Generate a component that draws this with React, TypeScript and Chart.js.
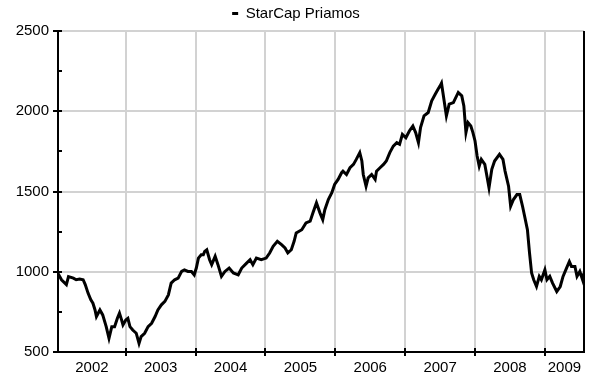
import React, { useEffect, useRef } from 'react';
import { Chart, registerables } from 'chart.js';

Chart.register(...registerables);

const seriesName = 'StarCap Priamos';

// decimal-year positions of the samples
const dates = [
  2002.03, 2002.08, 2002.15, 2002.18, 2002.25, 2002.29, 2002.34, 2002.39, 2002.42, 2002.46,
  2002.50, 2002.53, 2002.56, 2002.58, 2002.63, 2002.67, 2002.72, 2002.76, 2002.80, 2002.84,
  2002.88, 2002.91, 2002.94, 2002.96, 2003.00, 2003.03, 2003.06, 2003.10, 2003.15, 2003.19,
  2003.22, 2003.27, 2003.32, 2003.37, 2003.42, 2003.46, 2003.51, 2003.56, 2003.61, 2003.65,
  2003.70, 2003.75, 2003.80, 2003.84, 2003.89, 2003.94, 2003.98, 2004.01, 2004.04, 2004.08,
  2004.11, 2004.13, 2004.16, 2004.20, 2004.23, 2004.28, 2004.32, 2004.37, 2004.42, 2004.48,
  2004.54, 2004.61, 2004.66, 2004.73, 2004.78, 2004.82, 2004.87, 2004.94, 2005.01, 2005.06,
  2005.11, 2005.17, 2005.23, 2005.28, 2005.32, 2005.37, 2005.41, 2005.44, 2005.52, 2005.58,
  2005.64, 2005.68, 2005.73, 2005.78, 2005.82, 2005.85, 2005.90, 2005.95, 2005.99, 2006.04,
  2006.09, 2006.11, 2006.16, 2006.21, 2006.26, 2006.30, 2006.35, 2006.38, 2006.40, 2006.44,
  2006.47, 2006.52, 2006.57, 2006.59, 2006.64, 2006.69, 2006.73, 2006.78, 2006.83, 2006.88,
  2006.92, 2006.96, 2007.01, 2007.06, 2007.11, 2007.15, 2007.19, 2007.22, 2007.27, 2007.33,
  2007.38, 2007.43, 2007.47, 2007.50, 2007.52, 2007.54, 2007.59, 2007.63, 2007.69, 2007.76,
  2007.81, 2007.84, 2007.87, 2007.90, 2007.94, 2007.97, 2008.00, 2008.03, 2008.06, 2008.09,
  2008.14, 2008.17, 2008.20, 2008.24, 2008.28, 2008.35, 2008.40, 2008.43, 2008.48, 2008.51,
  2008.55, 2008.60, 2008.64, 2008.68, 2008.71, 2008.75, 2008.78, 2008.81, 2008.84, 2008.88,
  2008.92, 2008.95, 2009.00, 2009.03, 2009.07, 2009.11, 2009.17, 2009.22, 2009.26, 2009.31,
  2009.35, 2009.38, 2009.43, 2009.46, 2009.50, 2009.54, 2009.56,
];

const values = [
  990, 950, 920, 970, 960, 950, 955, 950, 920, 867,
  825, 804, 762, 721, 762, 731, 658, 585, 658, 658,
  710, 742, 700, 669, 700, 710, 658, 637, 617, 554,
  596, 617, 658, 679, 721, 762, 794, 815, 856, 929,
  950, 960, 1002, 1012, 1002, 1002, 981, 1023, 1085, 1106,
  1106, 1127, 1137, 1075, 1044, 1096, 1044, 971, 1002, 1023,
  992, 981, 1023, 1054, 1075, 1044, 1085, 1075, 1085, 1117,
  1158, 1190, 1169, 1148, 1117, 1137, 1190, 1242, 1262, 1304,
  1315, 1367, 1429, 1367, 1325, 1387, 1450, 1492, 1544, 1575,
  1617, 1627, 1606, 1648, 1669, 1700, 1742, 1690, 1606, 1533,
  1585, 1606, 1575, 1627, 1648, 1669, 1690, 1742, 1783, 1804,
  1794, 1856, 1835, 1877, 1908, 1867, 1804, 1898, 1971, 1992,
  2065, 2106, 2137, 2158, 2175, 2117, 1971, 2044, 2054, 2117,
  2096, 2033, 1867, 1929, 1908, 1867, 1815, 1721, 1658, 1700,
  1669, 1596, 1523, 1638, 1690, 1731, 1700, 1627, 1533, 1408,
  1450, 1481, 1481, 1408, 1346, 1262, 1117, 992, 950, 908,
  971, 950, 1012, 950, 971, 929, 877, 908, 971, 1023,
  1064, 1033, 1033, 971, 1002, 950, 992,
];

const yearLabels = ['2002', '2003', '2004', '2005', '2006', '2007', '2008', '2009'];
const yMajorTicks = [500, 1000, 1500, 2000, 2500];

const X_MIN = 2002.03;
const X_MAX = 2009.56;
const Y_MIN = 500;
const Y_MAX = 2500;
const Y_MINOR_STEP = 250;

const FONT = { family: '"Liberation Sans", Arial, sans-serif', size: 15 };

const framePlugin = {
  id: 'frame',
  afterDraw(chart: any) {
    const { ctx, chartArea: a, scales } = chart;
    ctx.save();
    ctx.strokeStyle = '#000';
    ctx.lineWidth = 2;
    ctx.beginPath();
    ctx.moveTo(a.right, a.top);
    ctx.lineTo(a.right, a.bottom + 1);
    ctx.stroke();
    const ys = scales.y;
    for (let v = Y_MIN; v <= Y_MAX; v += Y_MINOR_STEP) {
      const py = Math.round(ys.getPixelForValue(v));
      const major = yMajorTicks.includes(v);
      ctx.beginPath();
      ctx.moveTo(a.left - (major ? 5 : 0), py);
      ctx.lineTo(a.left + 4, py);
      ctx.stroke();
    }
    const xs = scales.x;
    yearLabels.forEach((lab) => {
      const yr = Number(lab);
      if (yr <= X_MIN || yr >= X_MAX) return;
      const px = Math.round(xs.getPixelForValue(yr));
      ctx.beginPath();
      ctx.moveTo(px, a.bottom - 4);
      ctx.lineTo(px, a.bottom + 4);
      ctx.stroke();
    });
    ctx.restore();
  },
};

export default function App() {
  const ref = useRef<HTMLCanvasElement | null>(null);

  useEffect(() => {
    document.body.style.margin = '0';
    const canvas = ref.current;
    if (!canvas) return;

    // x ticks: year boundaries (gridlines) and interval centres (labels)
    const boundaryTicks = yearLabels.map(Number).filter((y) => y > X_MIN && y < X_MAX);
    const labelTicks = yearLabels.map((lab) => {
      const y = Number(lab);
      return { value: (Math.max(y, X_MIN) + Math.min(y + 1, X_MAX)) / 2, label: lab };
    });
    const xTickList = [
      ...boundaryTicks.map((v) => ({ value: v, label: '', major: true })),
      ...labelTicks.map((t) => ({ value: t.value, label: t.label, major: false })),
    ].sort((p, q) => p.value - q.value);

    const chart = new Chart(canvas, {
      type: 'line',
      data: {
        datasets: [
          {
            label: seriesName,
            data: dates.map((d, i) => ({ x: d, y: values[i] })),
            borderColor: '#000',
            backgroundColor: '#000',
            borderWidth: 3,
            pointRadius: 0,
            tension: 0,
            fill: false,
          },
        ],
      },
      options: {
        animation: false,
        responsive: false,
        maintainAspectRatio: false,
        layout: { padding: { left: 8, right: 16, top: 0, bottom: 0 } },
        plugins: {
          tooltip: { enabled: false },
          legend: {
            display: true,
            position: 'top',
            labels: {
              font: FONT,
              color: '#000',
              boxWidth: 6,
              boxHeight: 3,
              padding: 6,
              generateLabels: (c: any) =>
                c.data.datasets.map((ds: any, i: number) => ({
                  text: ds.label,
                  fillStyle: '#000',
                  strokeStyle: '#000',
                  lineWidth: 0,
                  datasetIndex: i,
                  fontColor: '#000',
                })),
            },
          },
        },
        scales: {
          x: {
            type: 'linear',
            min: X_MIN,
            max: X_MAX,
            afterBuildTicks: (s: any) => {
              s.ticks = xTickList.map((t) => ({ value: t.value }));
            },
            afterFit: (s: any) => {
              s.height = 23;
            },
            ticks: {
              autoSkip: false,
              maxRotation: 0,
              minRotation: 0,
              padding: 7,
              color: '#000',
              font: FONT,
              callback: (v: any) => {
                const t = xTickList.find((q) => Math.abs(q.value - Number(v)) < 1e-6);
                return t ? t.label : '';
              },
            },
            grid: {
              drawTicks: false,
              lineWidth: 2,
              color: (ctx: any) => {
                const v = ctx.tick ? ctx.tick.value : null;
                return v !== null && boundaryTicks.some((b) => Math.abs(b - v) < 1e-6)
                  ? '#d2d2d2'
                  : 'rgba(0,0,0,0)';
              },
            },
            border: { display: true, color: '#000', width: 2 },
          },
          y: {
            type: 'linear',
            min: Y_MIN,
            max: Y_MAX,
            afterBuildTicks: (s: any) => {
              const arr: any[] = [];
              for (let v = Y_MIN; v <= Y_MAX; v += Y_MINOR_STEP) arr.push({ value: v });
              s.ticks = arr;
            },
            afterFit: (s: any) => {
              s.width = 50;
            },
            ticks: {
              padding: 9,
              color: '#000',
              font: FONT,
              callback: (v: any) => (yMajorTicks.includes(Number(v)) ? String(v) : ''),
            },
            grid: {
              drawTicks: false,
              lineWidth: 2,
              color: (ctx: any) =>
                ctx.tick && yMajorTicks.includes(ctx.tick.value) ? '#d2d2d2' : 'rgba(0,0,0,0)',
            },
            border: { display: true, color: '#000', width: 2 },
          },
        },
      },
      plugins: [framePlugin],
    } as any);

    return () => chart.destroy();
  }, []);

  return (
    <div style={{ width: 600, height: 375, background: '#fff' }}>
      <canvas ref={ref} width={600} height={375} style={{ display: 'block' }} />
    </div>
  );
}
